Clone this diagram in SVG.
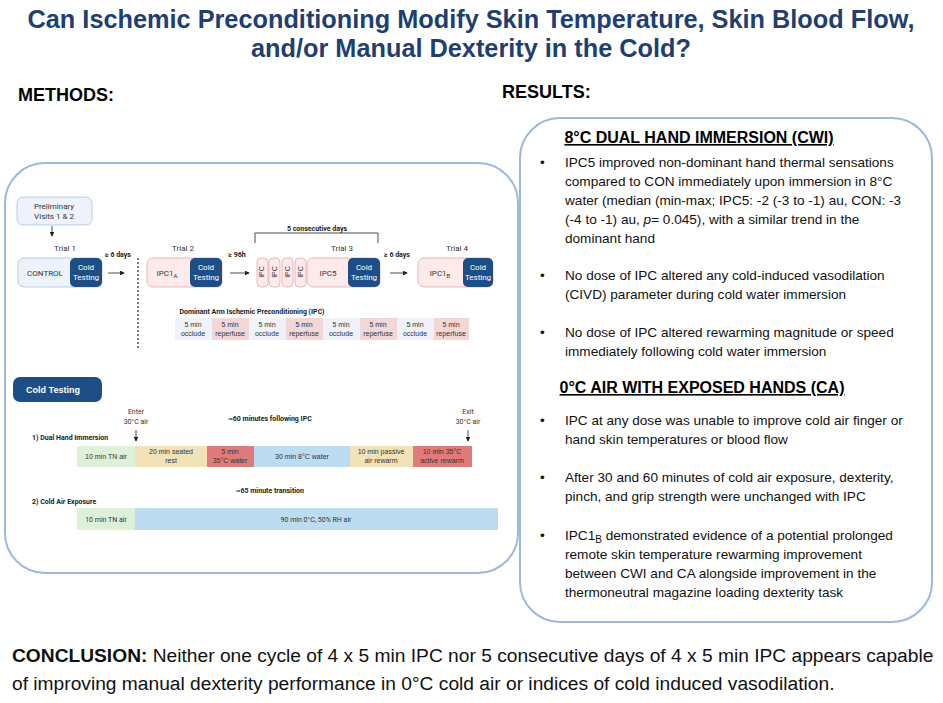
<svg xmlns="http://www.w3.org/2000/svg" width="943" height="703" viewBox="0 0 943 703">
<style>
text{font-family:"Liberation Sans",Arial,sans-serif}
.t{font-size:25.3px;font-weight:bold;fill:#1f3f72;text-anchor:middle}
.h{font-size:18px;font-weight:bold;fill:#000}
.b{font-size:13.6px;fill:#111}
.rh{font-size:16px;font-weight:bold;text-decoration:underline;text-anchor:middle}
.s{font-family:Roboto,"Liberation Sans",sans-serif;font-size:7px;fill:#333;text-anchor:middle}
.sb{font-family:Roboto,"Liberation Sans",sans-serif;font-size:7px;font-weight:bold;fill:#222;text-anchor:middle}
.st{text-anchor:start}
.m{font-family:Roboto,"Liberation Sans",sans-serif;font-size:8px;fill:#333;text-anchor:middle}
.w{font-family:Roboto,"Liberation Sans",sans-serif;font-size:8px;fill:#fff;text-anchor:middle}
.pk{fill:#fdeaea;stroke:#e8a8a8;stroke-width:0.8}
.dk{fill:#1d4f86}
.c{font-size:19.2px;fill:#111}
</style>
<defs><marker id="a" markerWidth="6" markerHeight="6" refX="5" refY="3" orient="auto"><path d="M0,0L6,3L0,6z" fill="#222"/></marker></defs>
<rect width="943" height="703" fill="#fff"/>
<text class="t" x="471" y="28">Can Ischemic Preconditioning Modify Skin Temperature, Skin Blood Flow,</text>
<text class="t" x="471" y="57">and/or Manual Dexterity in the Cold?</text>
<text class="h" x="18" y="101">METHODS:</text>
<text class="h" x="502" y="98">RESULTS:</text>
<rect x="5" y="163" width="513" height="410" rx="40" fill="none" stroke="#9db7dd" stroke-width="2"/>
<rect x="520" y="118" width="412" height="504" rx="40" fill="none" stroke="#9db7dd" stroke-width="2"/>

<g id="results">
<text class="rh" x="699" y="143">8°C DUAL HAND IMMERSION (CWI)</text>
<g class="b">
<text x="540" y="167">•</text><text x="565" y="167">IPC5 improved non-dominant hand thermal sensations</text>
<text x="565" y="186">compared to CON immediately upon immersion in 8°C</text>
<text x="565" y="205">water (median (min-max; IPC5: -2 (-3 to -1) au, CON: -3</text>
<text x="565" y="224">(-4 to -1) au, <tspan font-style="italic">p</tspan>= 0.045), with a similar trend in the</text>
<text x="565" y="243">dominant hand</text>
<text x="540" y="280">•</text><text x="565" y="280">No dose of IPC altered any cold-induced vasodilation</text>
<text x="565" y="299">(CIVD) parameter during cold water immersion</text>
<text x="540" y="337">•</text><text x="565" y="337">No dose of IPC altered rewarming magnitude or speed</text>
<text x="565" y="356">immediately following cold water immersion</text>
</g>
<text class="rh" x="702" y="393">0°C AIR WITH EXPOSED HANDS (CA)</text>
<g class="b">
<text x="540" y="425">•</text><text x="565" y="425">IPC at any dose was unable to improve cold air finger or</text>
<text x="565" y="444">hand skin temperatures or blood flow</text>
<text x="540" y="482">•</text><text x="565" y="482">After 30 and 60 minutes of cold air exposure, dexterity,</text>
<text x="565" y="501">pinch, and grip strength were unchanged with IPC</text>
<text x="540" y="540">•</text><text x="565" y="540">IPC1<tspan font-size="10" dy="3">B</tspan><tspan dy="-3"> demonstrated evidence of a potential prolonged</tspan></text>
<text x="565" y="559">remote skin temperature rewarming improvement</text>
<text x="565" y="578">between CWI and CA alongside improvement in the</text>
<text x="565" y="597">thermoneutral magazine loading dexterity task</text>
</g>
</g>

<g id="conclusion">
<text class="c" x="12" y="662"><tspan font-weight="bold">CONCLUSION:</tspan> Neither one cycle of 4 x 5 min IPC nor 5 consecutive days of 4 x 5 min IPC appears capable</text>
<text class="c" x="12" y="690">of improving manual dexterity performance in 0°C cold air or indices of cold induced vasodilation.</text>
</g>

<g id="connectors" stroke="#222" stroke-width="0.8" fill="none">
<line x1="52" y1="226" x2="52" y2="236" marker-end="url(#a)"/>
<line x1="108" y1="273" x2="124" y2="273" marker-end="url(#a)"/>
<line x1="230" y1="273" x2="249" y2="273" marker-end="url(#a)"/>
<line x1="390" y1="273" x2="407" y2="273" marker-end="url(#a)"/>
<line x1="138" y1="258" x2="138" y2="350" stroke-dasharray="2,2" stroke-width="1.2"/>
<path d="M255,243V233H378V243"/>
<line x1="136" y1="430" x2="136" y2="441" marker-end="url(#a)"/>
<line x1="468" y1="430" x2="468" y2="441" marker-end="url(#a)"/>
</g>

<g id="prelim"><rect x="17" y="197" width="75" height="28" rx="6" fill="#edf2fb" stroke="#a9c0e2" stroke-width="0.8"/><text class="m" x="54" y="209">Preliminary</text><text class="m" x="54" y="219">Visits 1 &amp; 2</text></g>
<g id="trial1"><text class="m" x="65" y="251">Trial 1</text><rect x="18" y="258" width="84" height="29" rx="6" fill="#edf2fb" stroke="#a9c0e2" stroke-width="0.8"/><rect class="dk" x="70" y="258" width="32" height="29" rx="5"/><text class="m" x="45" y="276">CONTROL</text><text class="w" x="86" y="270">Cold</text><text class="w" x="86" y="280">Testing</text></g>
<text class="sb" x="118" y="257" font-size="8">≥ 6 days</text>
<g id="trial2"><text class="m" x="183" y="251">Trial 2</text><rect class="pk" x="147" y="258" width="75" height="29" rx="6"/><rect class="dk" x="190" y="258" width="32" height="29" rx="5"/><text class="m" x="167" y="276">IPC1<tspan font-size="6" dy="2">A</tspan></text><text class="w" x="206" y="270">Cold</text><text class="w" x="206" y="280">Testing</text></g>
<text class="sb" x="237" y="257" font-size="8">≥ 96h</text>
<text class="sb" x="317" y="231">5 consecutive days</text>
<g id="trial3"><text class="m" x="342" y="251">Trial 3</text>
<rect class="pk" x="257" y="258" width="11" height="29" rx="4"/><rect class="pk" x="269" y="258" width="11" height="29" rx="4"/><rect class="pk" x="282" y="258" width="11" height="29" rx="4"/><rect class="pk" x="295" y="258" width="11" height="29" rx="4"/>
<g class="s" font-size="6"><text transform="translate(264,272) rotate(-90)">IPC</text><text transform="translate(277,272) rotate(-90)">IPC</text><text transform="translate(290,272) rotate(-90)">IPC</text><text transform="translate(303,272) rotate(-90)">IPC</text></g>
<rect class="pk" x="307" y="258" width="73" height="29" rx="6"/><rect class="dk" x="348" y="258" width="32" height="29" rx="5"/><text class="m" x="328" y="276">IPC5</text><text class="w" x="364" y="270">Cold</text><text class="w" x="364" y="280">Testing</text></g>
<text class="sb" x="397" y="257" font-size="8">≥ 6 days</text>
<g id="trial4"><text class="m" x="457" y="251">Trial 4</text><rect class="pk" x="418" y="258" width="75" height="29" rx="6"/><rect class="dk" x="463" y="258" width="30" height="29" rx="5"/><text class="m" x="440" y="276">IPC1<tspan font-size="6" dy="2">B</tspan></text><text class="w" x="478" y="270">Cold</text><text class="w" x="478" y="280">Testing</text></g>

<g id="ipc">
<text class="sb" x="252" y="314">Dominant Arm Ischemic Preconditioning (IPC)</text>
<rect x="175" y="318" width="37" height="22" fill="#eef2fa"/><rect x="212" y="318" width="37" height="22" fill="#f3d6d6"/><rect x="249" y="318" width="37" height="22" fill="#eef2fa"/><rect x="286" y="318" width="37" height="22" fill="#f3d6d6"/><rect x="323" y="318" width="37" height="22" fill="#eef2fa"/><rect x="360" y="318" width="37" height="22" fill="#f3d6d6"/><rect x="397" y="318" width="37" height="22" fill="#eef2fa"/><rect x="434" y="318" width="35" height="22" fill="#f3d6d6"/>
<g class="s"><text x="193" y="327">5 min</text><text x="193" y="336">occlude</text><text x="230" y="327">5 min</text><text x="230" y="336">reperfuse</text><text x="267" y="327">5 min</text><text x="267" y="336">occlude</text><text x="304" y="327">5 min</text><text x="304" y="336">reperfuse</text><text x="341" y="327">5 min</text><text x="341" y="336">occlude</text><text x="378" y="327">5 min</text><text x="378" y="336">reperfuse</text><text x="415" y="327">5 min</text><text x="415" y="336">occlude</text><text x="451" y="327">5 min</text><text x="451" y="336">reperfuse</text></g>
</g>

<g id="coldtesting">
<rect class="dk" x="13" y="377" width="89" height="25" rx="7"/><text x="53" y="393" font-family="Roboto,'Liberation Sans',sans-serif" font-size="9" font-weight="bold" fill="#fff" text-anchor="middle">Cold Testing</text>
<text class="s" x="136" y="414">Enter</text><text class="s" x="136" y="424">30°C air</text>
<text class="sb" x="270" y="421">~60 minutes following IPC</text>
<text class="s" x="468" y="414">Exit</text><text class="s" x="468" y="424">30°C air</text>
<text class="sb st" x="32" y="440">1) Dual Hand Immersion</text>
<rect x="77" y="446" width="58" height="21" fill="#dff0d8"/><rect x="135" y="446" width="72" height="21" fill="#f2e2b8"/><rect x="207" y="446" width="47" height="21" fill="#e07b7b"/><rect x="254" y="446" width="96" height="21" fill="#bcdcf2"/><rect x="350" y="446" width="63" height="21" fill="#f2e2b8"/><rect x="413" y="446" width="59" height="21" fill="#e07b7b"/>
<g class="s"><text x="106" y="459">10 min TN air</text><text x="171" y="454">20 min seated</text><text x="171" y="463">rest</text><text x="230" y="454">5 min</text><text x="230" y="463">35°C water</text><text x="302" y="459">30 min 8°C water</text><text x="381" y="454">10 min passive</text><text x="381" y="463">air rewarm</text><text x="442" y="454">10 min 35°C</text><text x="442" y="463">active rewarm</text></g>
<text class="sb" x="270" y="493">~65 minute transition</text>
<text class="sb st" x="32" y="504">2) Cold Air Exposure</text>
<rect x="77" y="508" width="58" height="22" fill="#dff0d8"/><rect x="135" y="508" width="363" height="22" fill="#bcdcf2"/>
<text class="s" x="106" y="522">10 min TN air</text><text class="s" x="316" y="522">90 min 0°C, 50% RH air</text>
</g>
</svg>
